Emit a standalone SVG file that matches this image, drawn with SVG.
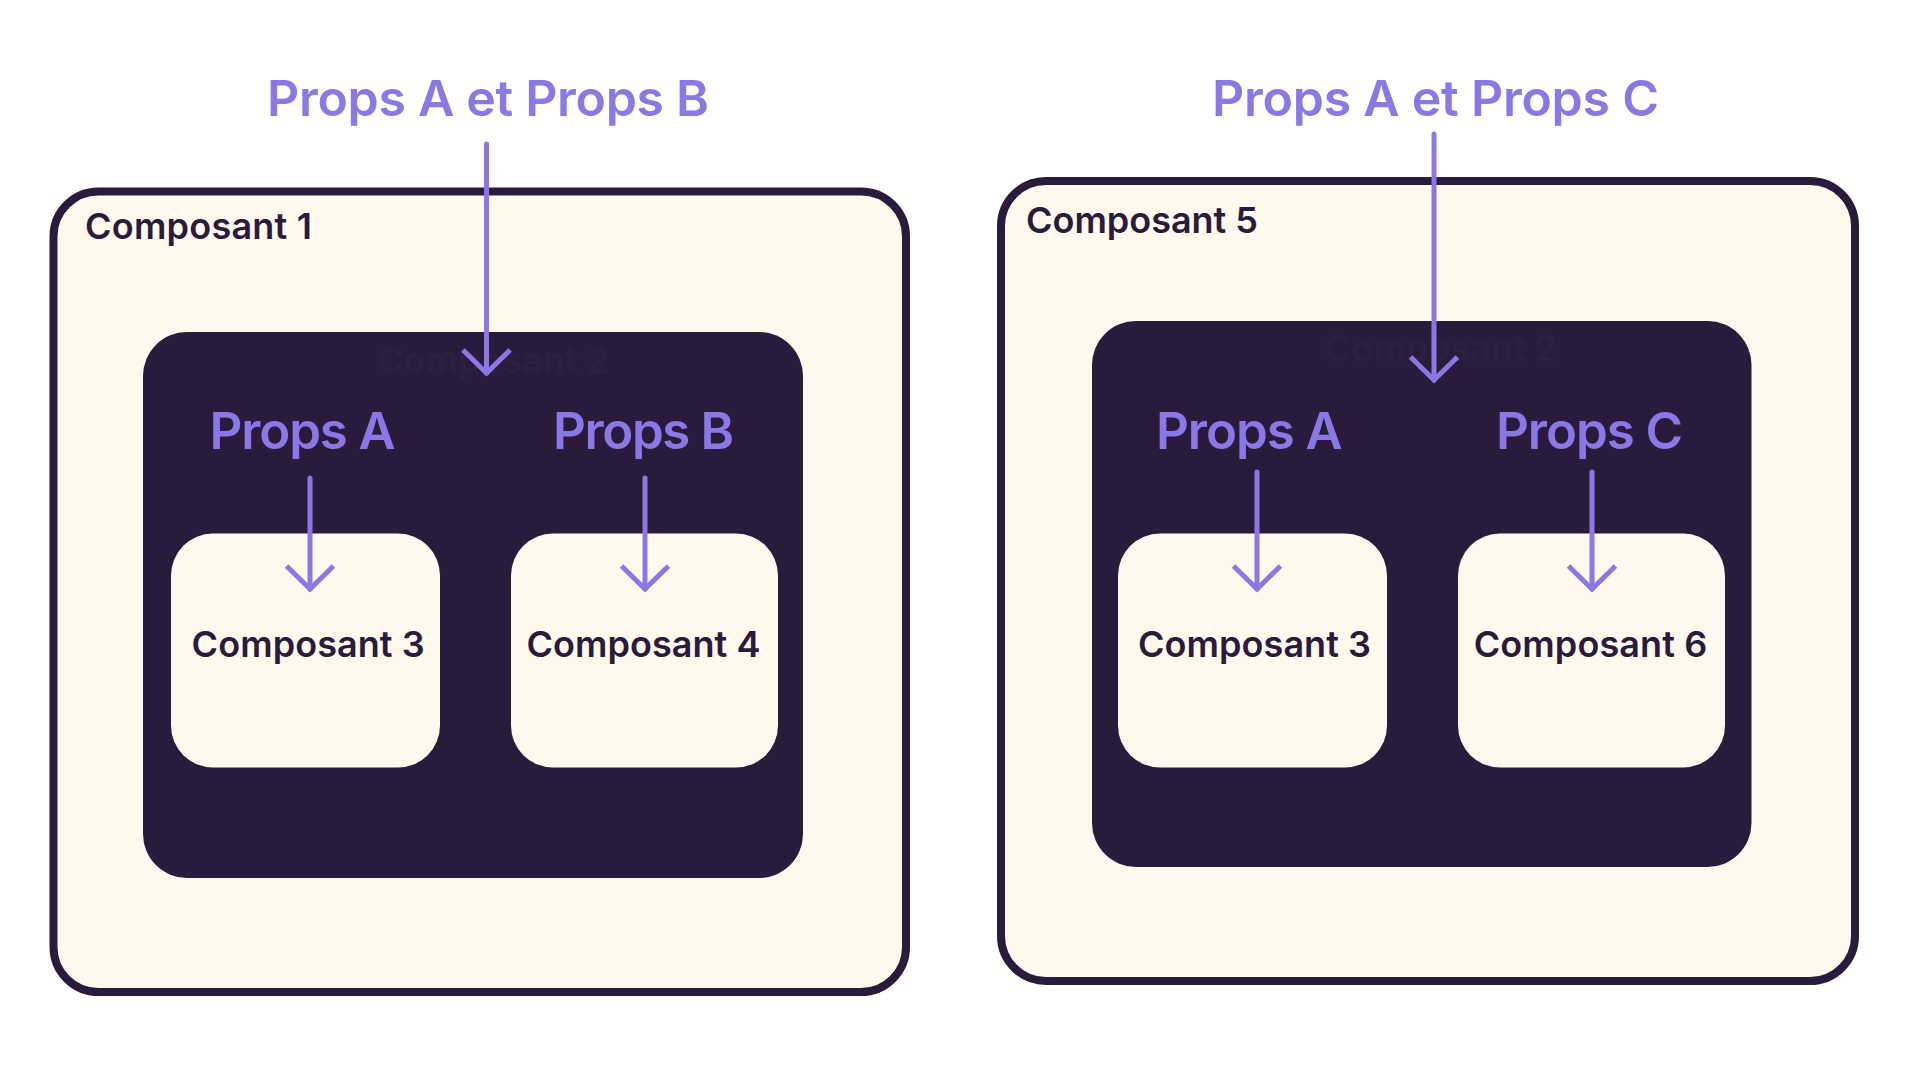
<svg xmlns="http://www.w3.org/2000/svg" width="1920" height="1080" viewBox="0 0 1920 1080">
  <defs>
    <style>
      .outer { fill: #FEF8ED; stroke: #2A1B3D; stroke-width: 8; }
      .inner { fill: #2A1B3D; }
      .card { fill: #FEF8ED; }
      .t { font-family: Inter, "Liberation Sans", sans-serif; font-weight: 600; }
      .title { font-size: 50px; fill: #8B78E6; text-anchor: middle; }
      .props { font-size: 51px; fill: #8B78E6; }
      .lbl { font-size: 36px; fill: #2A1B3D; }
      .ghost { font-size: 36px; fill: #2E1F40; text-anchor: middle; }
      .arrow { fill: none; stroke: #8B78E6; stroke-width: 5; stroke-linecap: round; }
      .head { fill: none; stroke: #8B78E6; stroke-width: 5; stroke-linecap: butt; stroke-linejoin: miter; }
    </style>
    <marker id="ah" markerUnits="userSpaceOnUse" markerWidth="60" markerHeight="60" refX="0" refY="0" orient="auto" overflow="visible">
      <path class="head" d="M-23,-23.5 L0,0 L-23,23.5"/>
    </marker>
  </defs>
  <rect width="1920" height="1080" fill="#FFFFFF"/>

  <g id="composant1">
    <rect class="outer" x="53.5" y="191.5" width="852.5" height="800.5" rx="45"/>
    <text class="t lbl" x="85" y="239" textLength="227">Composant 1</text>
  </g>
  <g id="composant2-left">
    <rect class="inner" x="143" y="332" width="660" height="546" rx="44"/>
    <text class="t ghost" x="493" y="373">Composant 2</text>
    <text class="t props" x="209.5" y="449" textLength="186">Props A</text>
    <text class="t props" x="553" y="449" textLength="181">Props B</text>
  </g>
  <g id="composant3-left">
    <rect class="card" x="171" y="533.5" width="269" height="234" rx="42"/>
    <text class="t lbl" x="191.6" y="657.4" textLength="233">Composant 3</text>
  </g>
  <g id="composant4">
    <rect class="card" x="511" y="533.5" width="267" height="234" rx="42"/>
    <text class="t lbl" x="526.4" y="657.4" textLength="234">Composant 4</text>
  </g>

  <g id="composant5">
    <rect class="outer" x="1001" y="181" width="854" height="800" rx="45"/>
    <text class="t lbl" x="1026" y="233" textLength="232">Composant 5</text>
  </g>
  <g id="composant2-right">
    <rect class="inner" x="1092" y="321" width="659.5" height="546" rx="44"/>
    <text class="t ghost" x="1441" y="361">Composant 2</text>
    <text class="t props" x="1156" y="449" textLength="186.5">Props A</text>
    <text class="t props" x="1496" y="449" textLength="187">Props C</text>
  </g>
  <g id="composant3-right">
    <rect class="card" x="1118" y="533.5" width="269" height="234" rx="42"/>
    <text class="t lbl" x="1138" y="657.4" textLength="233">Composant 3</text>
  </g>
  <g id="composant6">
    <rect class="card" x="1458" y="533.5" width="267" height="234" rx="42"/>
    <text class="t lbl" x="1473.7" y="657.4" textLength="233.5">Composant 6</text>
  </g>

  <g id="labels">
    <text class="t title" x="488" y="116" textLength="442">Props A et Props B</text>
    <text class="t title" x="1435.5" y="116" textLength="447">Props A et Props C</text>
  </g>

  <g id="connectors">
    <path class="arrow" d="M486.5,144 V373" marker-end="url(#ah)"/>
    <path class="arrow" d="M1434,134 V380" marker-end="url(#ah)"/>
    <path class="arrow" d="M310,478 V589" marker-end="url(#ah)"/>
    <path class="arrow" d="M645,478 V589" marker-end="url(#ah)"/>
    <path class="arrow" d="M1257,472 V589" marker-end="url(#ah)"/>
    <path class="arrow" d="M1592,472 V589" marker-end="url(#ah)"/>
  </g>
</svg>
